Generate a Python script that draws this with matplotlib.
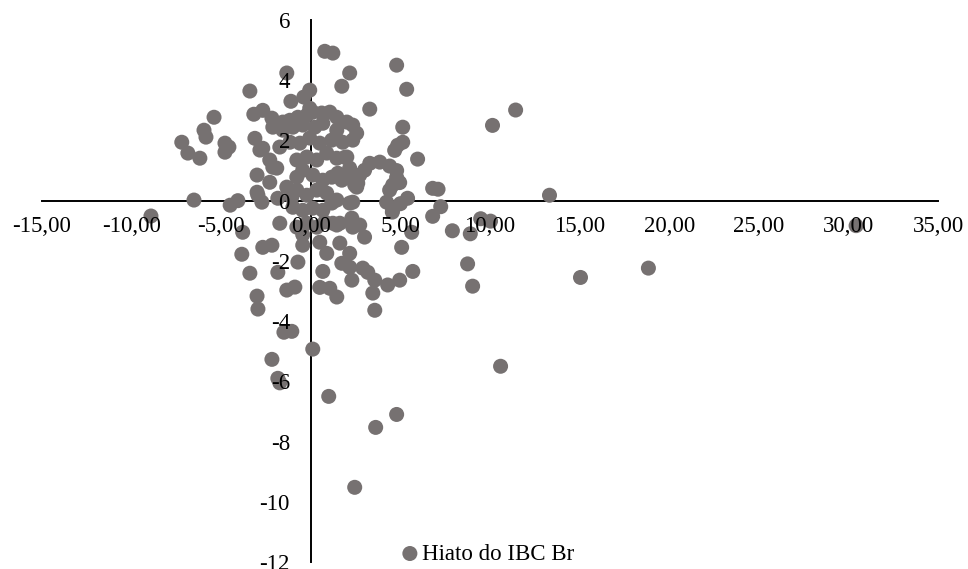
import matplotlib
matplotlib.use("Agg")
import matplotlib.pyplot as plt
from matplotlib.ticker import FuncFormatter

# Data (Hiato do IBC Br scatter)
x_vals = [
    -8.92, 30.43, 15.05, 18.84, 13.32, 11.43, 10.14, 10.59, 1.00, 3.62,
    4.79, 2.45, 0.11, -2.17, -1.84, -1.73, -1.50, -1.06, -3.00, -2.95,
    -1.34, -0.89, 5.35, 5.96, 6.80, 7.10, 7.25, 6.80, 7.90, 9.48,
    10.03, 8.90, 8.75, 9.03, 5.69, 5.63, 5.40, 0.78, 1.23, 2.17,
    4.79, 1.73, -0.06, -0.39, -1.11, -1.34, 3.29, -3.40, -5.40, -5.96,
    -5.85, -7.20, -6.86, -6.19, -4.79, -4.57, -4.79, -3.18, -2.68, -6.52,
    -4.50, -4.07, -2.95, -2.73, -3.00, -2.29, -3.12, -2.17, -2.12, -1.73,
    -3.80, -2.68, -2.17, -3.85, -3.40, -1.84, -0.72, -0.45, 0.50, 0.89,
    0.67, 0.50, 1.06, 1.45, 1.62, 2.17, 1.73, 2.17, 2.29, 2.90,
    3.18, 3.57, 3.46, 3.57, 4.29, 4.96, 3.00, 5.07, 1.23, 2.29,
    2.73, 4.55, 5.00, 5.13, 4.85, 4.68, 3.29, 3.85, 3.00, 4.40,
    4.79, 4.79, 4.96, 4.40, 4.57, 4.23, 4.57, 2.73, 2.45, 2.34,
    2.56, 2.34, 1.90, 5.13,
    -1.56, -1.17, -0.72, -0.22, 0.11, 0.61, 1.06, 1.45, 2.01, -2.84,
    -2.29, -1.90, -0.78, -0.45, 0.11, 0.67, 1.17, 1.73, 2.17, 2.56,
    -0.78, -0.22, 0.33, 0.89, 1.45, 2.01, -1.73, -1.17, -0.61, -0.06,
    0.50, 1.17, 1.78, 2.34, -1.56, -1.00, -0.45, 0.22, 0.67, 1.45,
    -0.78, -0.22, 0.33, 0.89, 1.45, 2.17, -1.00, -0.45, 0.11, 0.67,
    1.17, 1.62, 2.34, -0.78, -0.22, 0.33, 0.78, -1.34, -1.06, -1.84,
    -3.00, -2.68, -2.12, -0.06, 2.17, 1.51, 2.62, -0.45, 1.45,
]
y_vals = [
    -0.51, -0.83, -2.55, -2.24, 0.18, 3.01, 2.50, -5.50, -6.50, -7.53,
    -7.10, -9.52, -4.93, -5.27, -5.90, -6.05, -4.37, -4.34, -3.17, -3.60,
    -2.97, -2.87, 3.70, 1.38, 0.41, 0.38, -0.20, -0.52, -1.00, -0.60,
    -0.68, -1.10, -2.10, -2.84, -2.35, -1.05, 0.08, 4.96, 4.90, 4.24,
    4.50, 3.80, 3.67, 3.44, 3.30, 4.24, 3.04, 3.64, 2.77, 2.34,
    2.11, 1.94, 1.58, 1.41, 1.91, 1.78, 1.61, 2.87, 3.00, 0.02,
    -0.15, 0.00, 0.18, -0.05, 0.85, 0.61, 2.07, 2.74, 2.44, -0.75,
    -1.05, -1.55, -1.48, -1.78, -2.41, -2.38, -2.04, -1.48, -1.38, -1.75,
    -2.35, -2.88, -2.91, -3.20, -1.41, -1.75, -2.08, -2.21, -2.64, -2.24,
    -2.38, -2.64, -3.07, -3.64, -2.80, -2.64, -1.21, -1.55, -0.75, -0.58,
    -0.81, -0.38, -0.10, 2.44, 1.84, 1.67, 1.24, 1.28, 1.01, 1.15,
    1.00, 0.77, 0.60, 0.35, 0.52, -0.05, -0.31, 0.85, 0.52, -0.05,
    2.24, 2.51, 1.44, 1.94,
    2.61, 2.67, 2.77, 2.84, 2.94, 2.91, 2.94, 2.77, 2.61, 1.68,
    1.35, 1.08, 0.78, 1.01, 0.85, 0.68, 0.78, 0.68, 0.75, 0.45,
    1.35, 1.45, 1.35, 1.58, 1.41, 1.45, 1.78, 1.94, 1.91, 2.08,
    1.91, 2.01, 1.94, 2.01, 2.34, 2.44, 2.51, 2.44, 2.57, 2.34,
    0.35, 0.18, 0.35, 0.25, 0.02, -0.08, -0.22, -0.32, -0.25, -0.32,
    -0.08, -0.75, -0.88, -0.88, -0.75, -0.88, -0.71, 0.45, 0.12, 0.08,
    0.28, 1.74, 1.11, 3.07, 1.08, 0.91, 0.58, -1.13, -0.81,
]
series_name = "Hiato do IBC Br"
x_ticks = [-15, -10, -5, 0, 5, 10, 15, 20, 25, 30, 35]
y_ticks = [-12, -10, -8, -6, -4, -2, 0, 2, 4, 6]

plt.rcParams['font.family'] = ['Liberation Serif', 'DejaVu Serif']
FS = 16.5
COLOR = "#767171"

fig = plt.figure(figsize=(9.68, 5.69), dpi=100)
ax = fig.add_axes([42/968, 1-562/569, 896/968, 542/569])
ax.set_xlim(-15, 35)
ax.set_ylim(-12, 6)

ax.scatter(x_vals, y_vals, s=117, color=COLOR, edgecolors='none',
           zorder=2, label=series_name, clip_on=False)

for side in ['top', 'right']:
    ax.spines[side].set_visible(False)
ax.spines['left'].set_position(('data', 0))
ax.spines['bottom'].set_position(('data', 0))
for side in ['left', 'bottom']:
    ax.spines[side].set_linewidth(1.4)
    ax.spines[side].set_color('black')
    ax.spines[side].set_zorder(0.5)

ax.set_xticks(x_ticks)
ax.set_yticks(y_ticks)
ax.xaxis.set_major_formatter(FuncFormatter(lambda v, p: f"{v:.2f}".replace('.', ',')))
ax.yaxis.set_major_formatter(FuncFormatter(lambda v, p: f"{int(v)}"))
ax.tick_params(axis='x', length=0, pad=11, labelsize=FS)
ax.tick_params(axis='y', length=0, pad=15, labelsize=FS)
ax.set_axisbelow(False)
for lbl in ax.get_xticklabels() + ax.get_yticklabels():
    lbl.set_zorder(3)

leg = fig.legend(loc='center left', bbox_to_anchor=(403/968, 1-554/569),
                 frameon=False, fontsize=FS, handlelength=0.6,
                 handletextpad=0.25, borderpad=0, borderaxespad=0,
                 scatterpoints=1)

fig.savefig("out.png", dpi=100)
